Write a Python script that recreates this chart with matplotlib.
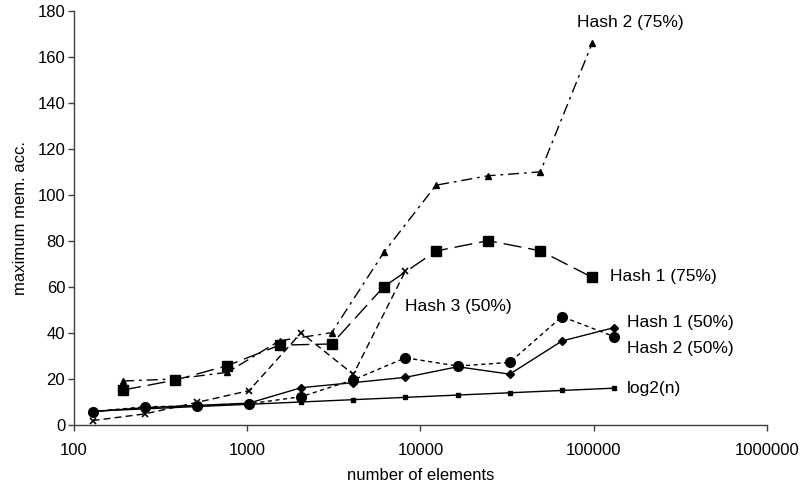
import matplotlib
matplotlib.use("Agg")
import matplotlib.pyplot as plt

plt.rcParams['font.family'] = ['Liberation Sans', 'DejaVu Sans']

# ---- data ----
n_pow2 = [128, 256, 512, 1024, 2048, 4096, 8192, 16384, 32768, 65536, 131072]
n_75 = [192, 384, 768, 1536, 3072, 6144, 12288, 24576, 49152, 98304]
n_h3 = [128, 256, 512, 1024, 2048, 4096, 8192]

hash1_50 = [5.8, 7.5, 8.5, 9.5, 16.2, 18.4, 20.7, 25.3, 22.1, 36.5, 42.3]
hash2_50 = [5.8, 7.9, 8.3, 9.2, 12.3, 19.6, 29.2, 25.6, 27.2, 47.1, 38.4]
hash3_50 = [1.9, 4.8, 9.8, 14.9, 40.1, 22.0, 67.0]
hash1_75 = [15.2, 19.5, 25.8, 34.7, 35.2, 60.1, 75.6, 80.1, 75.7, 64.1]
hash2_75 = [19.1, 20.0, 22.9, 36.6, 40.1, 75.0, 104.2, 108.3, 110.0, 166.2]
log2n = [6, 7, 8, 9, 10, 11, 12, 13, 14, 15, 16]

x_ticks = [100, 1000, 10000, 100000, 1000000]
x_tick_labels = ['100', '1000', '10000', '100000', '1000000']
y_ticks = [0, 20, 40, 60, 80, 100, 120, 140, 160, 180]

fig = plt.figure(figsize=(8.05, 4.9), dpi=100)
ax = fig.add_axes([0.0919, 0.1327, 0.8609, 0.8453])

lw = 1.0
ax.plot(n_pow2, log2n, color='black', lw=lw, ls='-', marker='s', ms=3.5)
ax.plot(n_pow2, hash1_50, color='black', lw=lw, ls='-', marker='D', ms=4.5)
ax.plot(n_pow2, hash2_50, color='black', lw=lw, ls=(0, (3, 2.5)), marker='o', ms=7)
ax.plot(n_h3, hash3_50, color='black', lw=lw, ls=(0, (5, 3)), marker='x', ms=4, mew=1.2)
ax.plot(n_75, hash1_75, color='black', lw=lw, ls=(0, (13, 5)), marker='s', ms=7)
ax.plot(n_75, hash2_75, color='black', lw=lw, ls=(0, (8, 3.5, 2, 3.5)), marker='^', ms=4)

ax.set_xscale('log')
ax.set_xlim(100, 1000000)
ax.set_ylim(0, 180)
ax.set_xticks(x_ticks)
ax.set_xticklabels(x_tick_labels)
ax.minorticks_off()
ax.set_yticks(y_ticks)

for s in ['top', 'right']:
    ax.spines[s].set_visible(False)
for s in ['left', 'bottom']:
    ax.spines[s].set_color('#404040')
    ax.spines[s].set_linewidth(1.0)
ax.tick_params(axis='both', direction='out', length=4.3, width=1, color='#404040',
               labelsize=12, labelcolor='black')
ax.tick_params(axis='x', pad=9)
ax.tick_params(axis='y', pad=2)

ax.set_xlabel('number of elements', fontsize=12)
ax.set_ylabel('maximum mem. acc.', fontsize=12)
ax.xaxis.set_label_coords(0.5, -0.123)
ax.yaxis.set_label_coords(-0.0765, 0.5)
ax.xaxis.label.set_va('center')
ax.yaxis.label.set_va('center')

# ---- series labels ----
tfs = 12.5
def lab(xp, yp, s):
    fig.text(xp / 805, 1 - yp / 490, s, fontsize=tfs, ha='left', va='center')
lab(577, 23, 'Hash 2 (75%)')
lab(610, 277, 'Hash 1 (75%)')
lab(627, 322, 'Hash 1 (50%)')
lab(627, 348, 'Hash 2 (50%)')
lab(627, 388, 'log2(n)')
lab(405, 307, 'Hash 3 (50%)')

fig.savefig('out.png', dpi=100)
